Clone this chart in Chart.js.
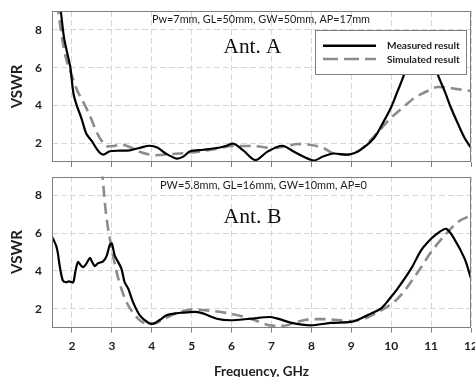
<!DOCTYPE html>
<html><head><meta charset="utf-8">
<script src="https://cdn.jsdelivr.net/npm/chart.js@4/dist/chart.umd.min.js"></script>
<style>
html,body{margin:0;padding:0;background:#fff;}
#wrap{position:relative;width:475px;height:377px;overflow:hidden;background:#fff;}
.box{position:absolute;left:0;width:475px;}
canvas{display:block;}
</style></head><body>
<div id="wrap">
<div class="box" style="top:0;height:172px"><canvas id="cA" width="475" height="172"></canvas></div>
<div class="box" style="top:172px;height:205px"><canvas id="cB" width="475" height="205"></canvas></div>
</div>
<script>
// ---- data ----
const xTicks = [2,3,4,5,6,7,8,9,10,11,12];
const yTicks = [2,4,6,8];
const seriesNames = ['Measured result','Simulated result'];
const xTitle = 'Frequency, GHz';
const yTitle = 'VSWR';
const paramA = 'Pw=7mm, GL=50mm, GW=50mm, AP=17mm';
const paramB = 'PW=5.8mm, GL=16mm, GW=10mm, AP=0';
const nameA = 'Ant. A';
const nameB = 'Ant. B';

const freqAMeas = [1.70,1.80,1.90,1.96,2.04,2.12,2.24,2.36,2.50,2.62,2.72,2.80,2.95,3.20,3.45,3.70,3.95,4.15,4.35,4.63,4.80,4.96,5.30,5.63,5.85,6.05,6.30,6.60,6.90,7.27,7.60,8.06,8.30,8.55,8.94,9.20,9.57,9.80,9.99,10.15,10.29,10.50,10.75,10.95,11.17,11.35,11.50,11.70,11.84,12.00];
const vswrAMeas = [9.4,7.6,6.6,6.0,4.6,4.0,3.3,2.5,2.1,1.7,1.45,1.40,1.57,1.60,1.62,1.75,1.86,1.75,1.45,1.18,1.30,1.57,1.65,1.74,1.85,1.97,1.60,1.10,1.55,1.86,1.50,1.08,1.30,1.45,1.39,1.60,2.27,3.10,3.86,4.70,5.44,6.80,7.60,7.00,5.62,4.70,3.86,2.90,2.27,1.75];
const freqASim = [1.63,1.75,1.85,1.96,2.11,2.36,2.50,2.61,2.75,2.87,3.05,3.24,3.50,3.75,3.95,4.10,4.50,4.96,5.50,6.05,6.50,7.06,7.40,7.65,8.00,8.30,8.61,8.90,9.20,9.50,9.99,10.30,10.58,10.90,11.17,11.40,11.67,12.00];
const vswrASim = [9.4,7.6,6.5,5.8,4.9,3.86,3.2,2.62,2.1,1.83,1.85,1.92,1.75,1.5,1.39,1.36,1.42,1.5,1.65,1.85,1.85,1.74,1.85,1.95,1.9,1.74,1.42,1.4,1.6,2.2,3.33,3.9,4.39,4.75,4.97,4.95,4.86,4.77];

const freqBMeas = [1.50,1.55,1.61,1.65,1.69,1.77,1.85,1.93,2.03,2.08,2.15,2.22,2.28,2.35,2.45,2.50,2.57,2.65,2.78,2.87,2.95,3.00,3.07,3.15,3.24,3.32,3.41,3.53,3.70,3.91,4.04,4.20,4.37,4.60,4.79,5.09,5.30,5.63,5.97,6.47,6.97,7.20,7.48,7.98,8.48,8.99,9.20,9.49,9.74,9.95,10.16,10.50,10.75,11.00,11.20,11.38,11.58,11.84,12.00];
const vswrBMeas = [5.8,5.6,5.3,4.9,4.3,3.5,3.4,3.45,3.4,3.9,4.47,4.3,4.2,4.35,4.68,4.5,4.26,4.4,4.51,4.8,5.39,5.45,4.83,4.5,4.12,3.4,3.06,2.35,1.65,1.26,1.21,1.4,1.65,1.75,1.79,1.83,1.74,1.47,1.39,1.47,1.56,1.45,1.26,1.12,1.25,1.3,1.45,1.74,2.0,2.5,3.06,4.12,5.09,5.7,6.05,6.23,5.7,4.65,3.6];
const freqBSim = [2.75,2.85,2.95,3.12,3.33,3.58,3.87,4.05,4.30,4.60,5.00,5.38,5.97,6.47,7.06,7.30,7.64,8.02,8.30,8.99,9.30,9.60,10.16,10.67,11.00,11.38,11.67,12.00];
const vswrBSim = [9.4,7.1,5.7,3.94,2.53,1.65,1.21,1.2,1.45,1.75,1.95,1.91,1.74,1.47,1.1,1.1,1.3,1.45,1.45,1.35,1.45,1.74,2.53,3.94,5.0,5.97,6.59,6.94];

// ---- styling ----
const SANS = 'Lato';
const SERIF = 'Liberation Serif';
const frameColor = '#7f7f7f';
const gridColor = '#d6d6d6';
const textColor = '#1e1e1e';

function pts(xs, ys){ return xs.map((x,i)=>({x:x, y:ys[i]})); }

function datasets(fm, vm, fs, vs){
  return [
    {label: seriesNames[0], data: pts(fm, vm), borderColor:'#000', backgroundColor:'#000', borderWidth:2.2, pointRadius:0, tension:0.3, fill:false, order:0},
    {label: seriesNames[1], data: pts(fs, vs), borderColor:'#8c8c8c', backgroundColor:'#8c8c8c', borderWidth:2.6, borderDash:[11,6], pointRadius:0, cubicInterpolationMode:'monotone', fill:false, order:1}
  ];
}

function zeroPad(s){ s.paddingLeft=0; s.paddingRight=0; s.paddingTop=0; s.paddingBottom=0; }

// set a font whose rendered width of `text` equals `target` px
function fitFont(ctx, text, weight, family, target){
  ctx.font = weight + ' 20px ' + family;
  const w = ctx.measureText(text).width;
  const size = 20 * target / w;
  ctx.font = weight + ' ' + size.toFixed(2) + 'px ' + family;
}

function decoPlugin(param, name, paramX, paramW, paramDy, nameDy, withLegend){
  return {
    id:'deco',
    afterDatasetsDraw(chart){
      const {ctx, chartArea:a} = chart;
      ctx.save();
      ctx.strokeStyle = frameColor; ctx.lineWidth = 1; ctx.setLineDash([]);
      ctx.strokeRect(Math.round(a.left)+0.5, Math.round(a.top)+0.5, Math.round(a.right)-Math.round(a.left)-1, Math.round(a.bottom)-Math.round(a.top)-1);
      ctx.restore();
    },
    afterDraw(chart){
      const {ctx, chartArea:a} = chart;
      ctx.save();
      ctx.fillStyle = textColor;
      ctx.textAlign = 'left'; ctx.textBaseline = 'alphabetic';
      fitFont(ctx, param, 'normal', SANS, paramW);
      ctx.fillText(param, a.left + paramX, a.top + paramDy);
      fitFont(ctx, name, 'normal', '"' + SERIF + '"', 58);
      ctx.textAlign = 'center';
      ctx.fillStyle = '#111';
      ctx.fillText(name, a.left + 200.5, a.top + nameDy);
      if (withLegend){
        const lx = a.left + 263, ly = a.top + 19, lw = a.right - 4 - lx, lh = 44.3;
        ctx.fillStyle = '#fff';
        ctx.fillRect(lx, ly, lw, lh);
        ctx.strokeStyle = frameColor; ctx.lineWidth = 1;
        ctx.strokeRect(Math.round(lx)+0.5, Math.round(ly)+0.5, Math.round(lw)-1, Math.round(lh));
        const dss = chart.data.datasets;
        const rows = [ly + 15.7, ly + 29];
        dss.forEach((ds, i) => {
          ctx.strokeStyle = ds.borderColor;
          ctx.lineWidth = 2.6;
          ctx.setLineDash(i === 0 ? [] : [15,6]);
          ctx.beginPath(); ctx.moveTo(lx + 8, rows[i]); ctx.lineTo(lx + 61, rows[i]); ctx.stroke();
          ctx.setLineDash([]);
          ctx.fillStyle = textColor;
          fitFont(ctx, dss[0].label, 'bold', SANS, 73);
          ctx.textAlign = 'left'; ctx.textBaseline = 'middle';
          ctx.fillText(ds.label, lx + 72, rows[i] + 0.5);
        });
      }
      ctx.restore();
    }
  };
}

function makeChart(id, dsets, showX, padTop, xHeight, plugin){
  return new Chart(document.getElementById(id), {
    type:'line',
    data:{datasets: dsets},
    options:{
      responsive:false, animation:false, devicePixelRatio:1,
      layout:{padding:{left:0, right:4, top:padTop, bottom:0}},
      plugins:{legend:{display:false}, tooltip:{enabled:false}},
      scales:{
        x:{
          type:'linear', min:1.5, max:12,
          afterBuildTicks(s){ s.ticks = xTicks.map(v=>({value:v})); },
          afterFit(s){ s.height = xHeight; zeroPad(s); },
          border:{display:false, dash:[6,3]},
          grid:{color:gridColor, lineWidth:1, borderDash:[6,3], drawTicks:true, tickLength:5, tickColor:frameColor, tickBorderDash:[], tickWidth:1},
          ticks:{display:true, callback:(v)=> showX ? String(v) : '', color:textColor, font:{family:SANS, weight:'bold', size:12}, padding:6, maxRotation:0, autoSkip:false},
          title:{display:showX, text:xTitle, color:textColor, font:{family:SANS, weight:'bold', size:13.5, lineHeight:1}, padding:{top:0, bottom:-1}}
        },
        y:{
          type:'linear', min:1, max:9,
          afterBuildTicks(s){ s.ticks = yTicks.map(v=>({value:v})); },
          afterFit(s){ s.width = 52; zeroPad(s); },
          border:{display:false, dash:[6,3]},
          grid:{color:gridColor, lineWidth:1, borderDash:[6,3], drawTicks:false},
          ticks:{color:textColor, font:{family:SANS, weight:'bold', size:12}, padding:10},
          title:{display:true, text:yTitle, color:textColor, font:{family:SANS, weight:'bold', size:15, lineHeight:1.2}, padding:{top:8, bottom:0}}
        }
      }
    },
    plugins:[plugin]
  });
}

makeChart('cA', datasets(freqAMeas, vswrAMeas, freqASim, vswrASim), false, 11, 10, decoPlugin(paramA, nameA, 100, 218, 11.5, 42, true));
makeChart('cB', datasets(freqBMeas, vswrBMeas, freqBSim, vswrBSim), true, 4.5, 49.4, decoPlugin(paramB, nameB, 108, 207, 12, 46, false));
</script>
</body></html>
